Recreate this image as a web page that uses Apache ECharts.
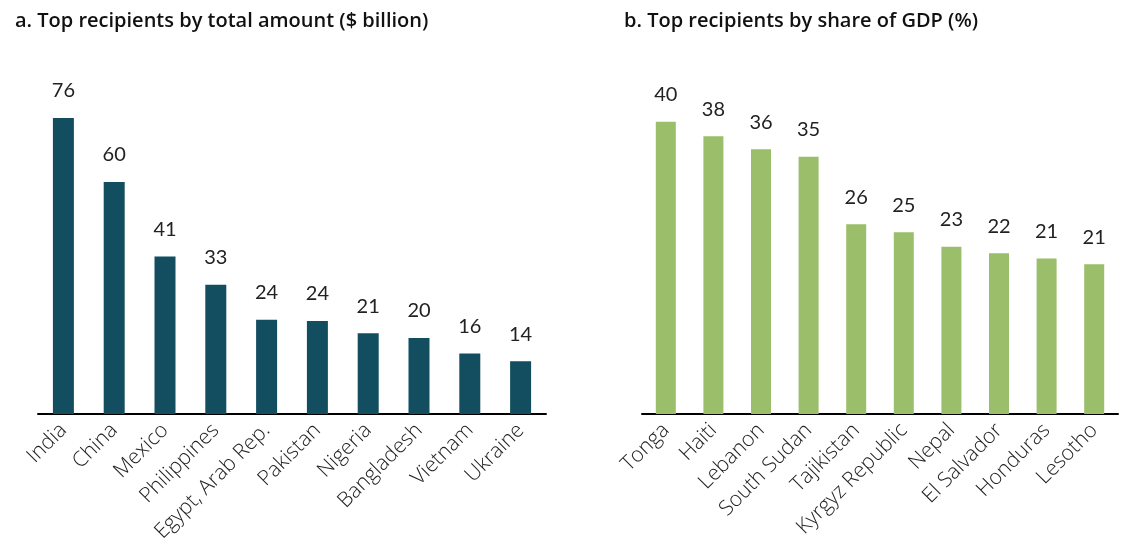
<!DOCTYPE html>
<html>
<head>
<meta charset="utf-8">
<script src="https://cdn.jsdelivr.net/npm/echarts@6/dist/echarts.min.js"></script>
<style>
html,body{margin:0;padding:0;background:#fff;}
#c{width:1121px;height:559px;}
</style>
</head>
<body>
<div id="c"></div>
<script>
const titleA = "a. Top recipients by total amount ($ billion)";
const titleB = "b. Top recipients by share of GDP (%)";
const catsA = ["India","China","Mexico","Philippines","Egypt, Arab Rep.","Pakistan","Nigeria","Bangladesh","Vietnam","Ukraine"];
const valsA = [76.3, 59.8, 40.6, 33.3, 24.3, 24.0, 20.8, 19.6, 15.6, 13.6];
const catsB = ["Tonga","Haiti","Lebanon","South Sudan","Tajikistan","Kyrgyz Republic","Nepal","El Salvador","Honduras","Lesotho"];
const valsB = [40.2, 38.2, 36.4, 35.4, 26.1, 25.0, 23.0, 22.1, 21.4, 20.6];

const chart = echarts.init(document.getElementById('c'));
const catAxis = (gi, cats) => ({
  type: 'category', gridIndex: gi, data: cats,
  axisLine: {show: true, lineStyle: {color: '#000', width: 2}},
  axisTick: {show: false},
  axisLabel: {rotate: 45, interval: 0, margin: 13, color: '#222', fontFamily: 'Open Sans', fontSize: 21, fontWeight: 300}
});
const valAxis = (gi, max) => ({
  type: 'value', gridIndex: gi, min: 0, max: max,
  show: false, splitLine: {show: false}
});
const barSeries = (gi, vals, color, w) => ({
  type: 'bar', xAxisIndex: gi, yAxisIndex: gi, data: vals, barWidth: w,
  itemStyle: {color: color},
  label: {show: true, position: 'top', distance: 17, color: '#222', fontFamily: 'Lato', fontSize: 20,
    formatter: p => Math.round(p.value)}
});
chart.setOption({
  animation: false,
  title: [
    {text: titleA, left: 10, top: 6, textStyle: {fontFamily: 'Open Sans', fontSize: 20, fontWeight: 600, color: '#111'}},
    {text: titleB, left: 619, top: 6, textStyle: {fontFamily: 'Open Sans', fontSize: 20, fontWeight: 600, color: '#111'}}
  ],
  grid: [
    {left: 38, width: 508, top: 103.6, bottom: 145, containLabel: false},
    {left: 642, width: 476, top: 94.1, bottom: 145, containLabel: false}
  ],
  xAxis: [catAxis(0, catsA), catAxis(1, catsB)],
  yAxis: [valAxis(0, 80), valAxis(1, 44)],
  series: [barSeries(0, valsA, '#134e60', 21), barSeries(1, valsB, '#9bbe6a', 20)]
});
</script>
</body>
</html>
